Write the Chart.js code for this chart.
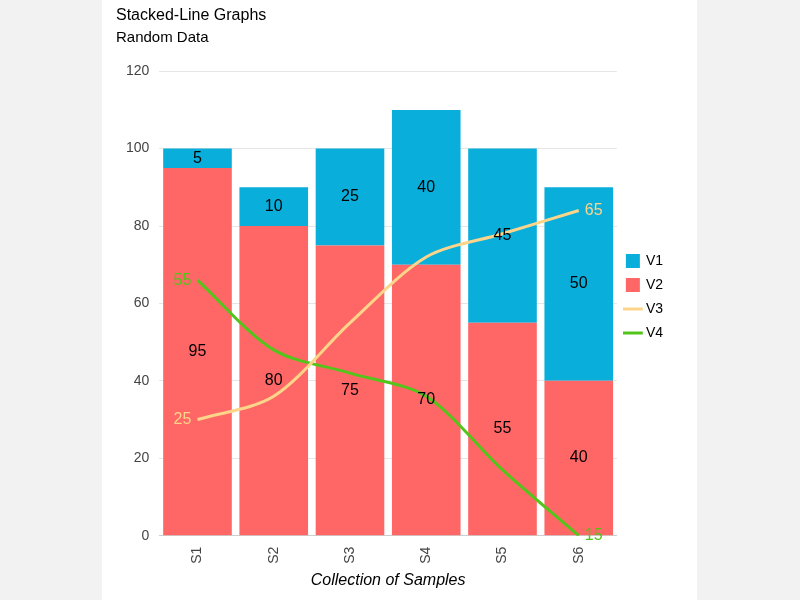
<!DOCTYPE html>
<html><head><meta charset="utf-8">
<script src="https://cdn.jsdelivr.net/npm/chart.js@4"></script>
<style>
html,body{margin:0;background:#f2f2f2;}
#wrap{position:absolute;left:102px;top:0;width:595px;height:600px;background:#fff;}
</style></head><body>
<div id="wrap"><canvas id="c"></canvas></div>
<script>
const categories=['S1','S2','S3','S4','S5','S6'];
const v1=[5,10,25,40,45,50];
const v2=[95,80,75,70,55,40];
const v3=[30,36,55,72,78,84];
const v4=[66,48,42,36,17,0];
const v3Labels=['25','','','','','65'];
const v4Labels=['55','','','','','15'];

const labelPlugin={id:'lbl',afterDatasetsDraw(chart){
  const ctx=chart.ctx;ctx.save();
  ctx.font='16px Arial, "Liberation Sans", sans-serif';ctx.textAlign='center';ctx.textBaseline='middle';
  [0,1].forEach(di=>{
    const meta=chart.getDatasetMeta(di);const d=chart.data.datasets[di].data;
    meta.data.forEach((b,i)=>{const y=(b.y+b.base)/2;ctx.fillStyle='#000';ctx.fillText(String(d[i]),b.x,y);});
  });
  [[2,v3Labels,'#fdd58a'],[3,v4Labels,'#52c41a']].forEach(([di,labs,col])=>{
    const meta=chart.getDatasetMeta(di);
    meta.data.forEach((p,i)=>{if(!labs[i])return;ctx.fillStyle=col;
      const dx=i===0?-15:15;ctx.fillText(labs[i],p.x+dx,p.y);});
  });
  ctx.restore();}};

new Chart(document.getElementById('c'),{
 type:'bar',
 data:{labels:categories,datasets:[
  {label:'V2',data:v2,backgroundColor:'#ff6666',stack:'s',order:2},
  {label:'V1',data:v1,backgroundColor:'#0aaedb',stack:'s',order:2},
  {label:'V3',type:'line',data:v3,stack:'l3',borderColor:'#fdd58a',backgroundColor:'#fdd58a',borderWidth:3,tension:0.3,pointRadius:0,order:1},
  {label:'V4',type:'line',data:v4,stack:'l4',borderColor:'#52c41a',backgroundColor:'#52c41a',borderWidth:3,tension:0.3,pointRadius:0,order:1}
 ]},
 options:{responsive:true,maintainAspectRatio:false,animation:false,
  datasets:{bar:{categoryPercentage:0.9,barPercentage:1}},
  layout:{padding:{left:14,right:24,bottom:6}},
  plugins:{
   title:{display:true,text:'Stacked-Line Graphs',align:'start',color:'#000',font:{size:16,weight:'normal',family:'Arial, "Liberation Sans"'},padding:{top:6,bottom:4}},
   subtitle:{display:true,text:'Random Data',align:'start',color:'#000',font:{size:15,family:'Arial, "Liberation Sans"'},padding:{bottom:24}},
   legend:{position:'right',labels:{usePointStyle:true,boxWidth:12,color:'#000',font:{size:14,family:'Arial, "Liberation Sans"'},
     generateLabels(chart){const names=['V1','V2','V3','V4'];const cols=['#0aaedb','#ff6666','#fdd58a','#52c41a'];
       return names.map((n,i)=>({text:n,fillStyle:cols[i],strokeStyle:cols[i],lineWidth:i<2?0:3,pointStyle:i<2?'rect':'line',datasetIndex:i,fontColor:'#000'}));}}},
   tooltip:{enabled:false}},
  scales:{
   x:{stacked:true,grid:{display:false},ticks:{maxRotation:90,minRotation:90,color:'#444',font:{size:14}},
      title:{display:true,text:'Collection of Samples',color:'#000',font:{size:16,style:'italic',family:'Arial, "Liberation Sans"'}}},
   y:{stacked:true,min:0,max:120,ticks:{stepSize:20,color:'#444',font:{size:14},padding:10},grid:{color:'#e6e6e6',drawTicks:false},border:{display:false}}
  }},
 plugins:[labelPlugin]
});
</script></body></html>
